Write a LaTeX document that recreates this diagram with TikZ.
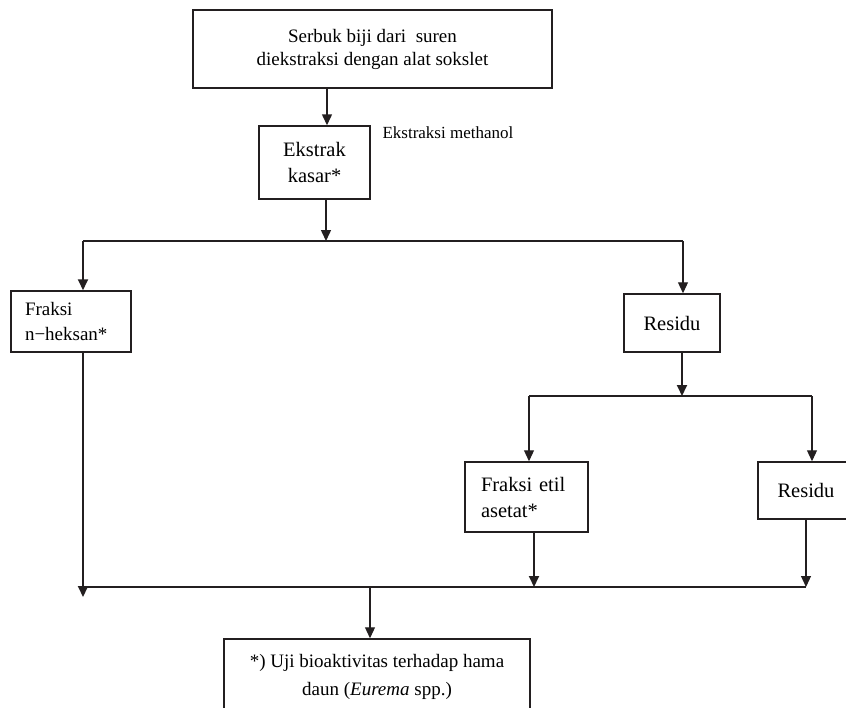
\documentclass[tikz,border=0pt]{standalone}
\usepackage{fontspec}
\setmainfont{Liberation Serif}
\usetikzlibrary{arrows.meta,calc}
\definecolor{boxline}{RGB}{35,31,32}

\begin{document}
\begin{tikzpicture}[x=1pt, y=-1pt,
  fbox/.style 2 args={draw=boxline, line width=1.5pt, minimum width=#1, minimum height=#2,
    inner sep=0pt, align=center, font=\fontsize{19}{23}\selectfont},
  lbox/.style 2 args={draw=boxline, line width=1.5pt, text width=#1, minimum height=#2,
    inner xsep=14pt, inner ysep=0pt, align=left, font=\fontsize{19}{25}\selectfont},
  big/.style={font=\fontsize{20.5}{26}\selectfont},
  link/.style={draw=boxline, line width=1.2pt},
  arr/.style={link, -{Triangle[length=11pt,width=10pt]}},
  heavy/.style={line width=1.9pt},
]
\useasboundingbox (0,0) rectangle (846,707);

% ===== Boxes =====
\node[fbox={359pt}{78pt}] (serbuk) at (372.5,49) {Serbuk biji dari~ suren\\diekstraksi dengan alat sokslet};
\node[fbox={111pt}{73pt}, big] (ekstrak) at (314.5,162.5) {Ekstrak\\kasar*};
\node[anchor=base west, font=\fontsize{17}{20}\selectfont] (metanol) at (379,138) {Ekstraksi methanol};
\node[lbox={92pt}{61pt}] (heksan) at (71,321.5) {Fraksi\\n−heksan*};
\node[fbox={96pt}{58pt}, big] (residuA) at (672,323) {Residu};
\node[lbox={91pt}{70pt}, inner xsep=16pt, big] (etil) at (526.5,497) {Fraksi etil\\asetat*};
\node[fbox={96pt}{57pt}, big] (residuB) at (806,490.5) {Residu};
\node[fbox={306pt}{76pt}, font=\fontsize{19}{28}\selectfont] (uji) at (377,677)
  {*) Uji bioaktivitas terhadap hama\\daun (\textit{Eurema} spp.)};

% ===== Branch points =====
\coordinate (spine) at (327,0);
\coordinate (splitL) at (83,241);
\coordinate (splitM) at (326,241);
\coordinate (splitR) at (683,241);
\coordinate (split2L) at (529,396);
\coordinate (split2M) at (682,396);
\coordinate (split2R) at (812,396);
\coordinate (joinL) at (83,587);
\coordinate (joinLtip) at (83,597);
\coordinate (joinE) at (534,587);
\coordinate (joinM) at (370,587);
\coordinate (joinR) at (806,587);

% ===== Connectors =====
\draw[arr, line width=1.5pt] (serbuk.south -| spine) -- (ekstrak.north -| spine);
\draw[arr, line width=1.5pt] (ekstrak.south -| splitM) -- (splitM);
\draw[link] (splitL) -- (splitR);
\draw[arr, heavy] (splitL) -- (splitL |- heksan.north);
\draw[arr] (splitR) -- (splitR |- residuA.north);
% --- residu split ---
\draw[arr, heavy] (residuA.south -| split2M) -- (split2M);
\draw[link] (split2L) -- (split2R);
\draw[arr] (split2L) -- (split2L |- etil.north);
\draw[arr] (split2R) -- (split2R |- residuB.north);
% --- join to bioassay ---
\draw[arr, heavy] (heksan.south -| joinL) -- (joinLtip);
\draw[arr, heavy] (etil.south -| joinE) -- (joinE);
\draw[arr] (residuB.south -| joinR) -- (joinR);
\draw[link] (joinL) -- (joinR);
\draw[arr] (joinM) -- (uji.north -| joinM);
\end{tikzpicture}
\end{document}
